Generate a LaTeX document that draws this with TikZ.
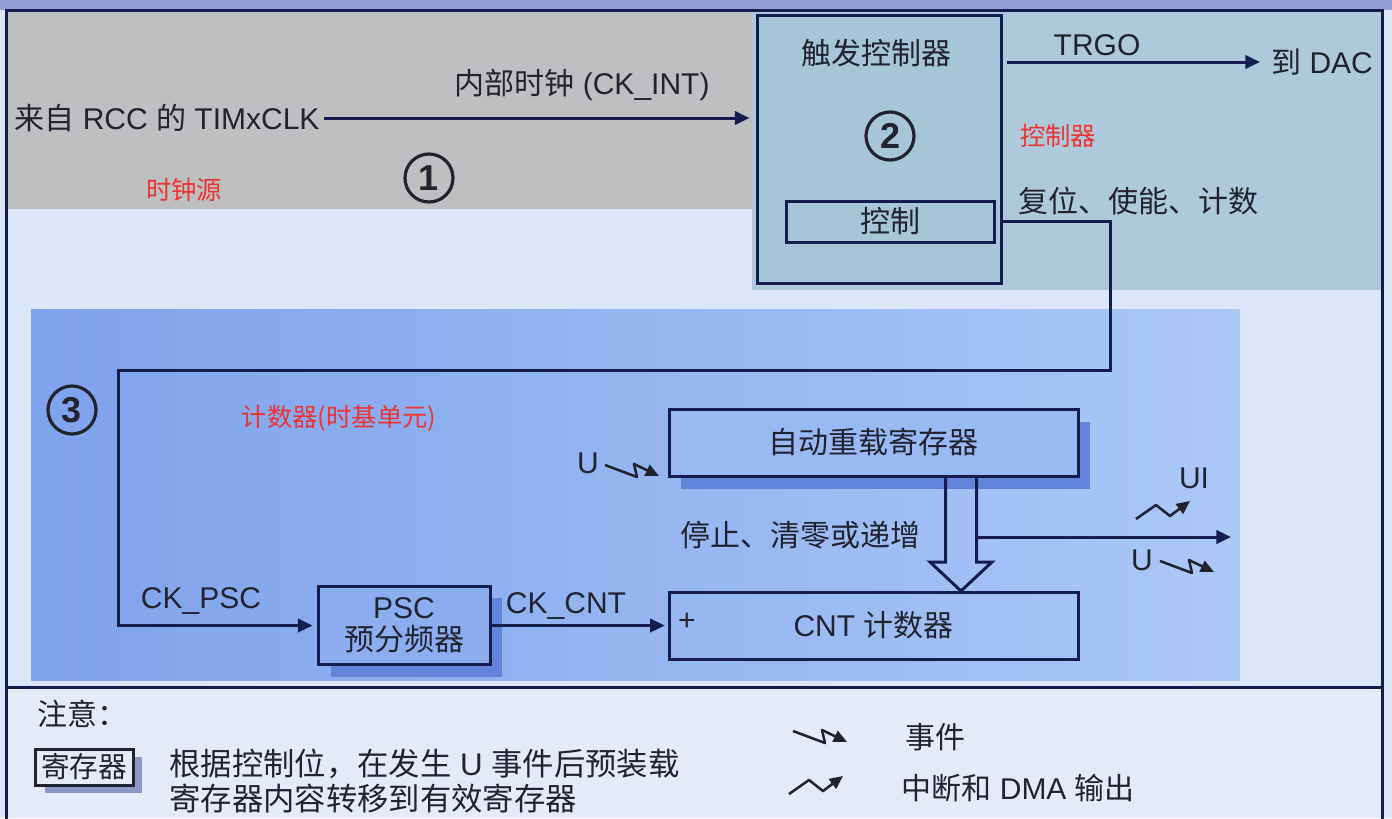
\documentclass[tikz,border=0pt]{standalone}
\usepackage{fontspec}
\setmainfont{Liberation Sans}
\newfontfamily\zh{Noto Sans CJK SC}
\usetikzlibrary{arrows.meta,calc}

\definecolor{navy}{RGB}{22,28,78}
\definecolor{ink}{RGB}{35,35,48}
\definecolor{srcgray}{RGB}{189,191,193}
\definecolor{ctlblue}{RGB}{174,201,217}
\definecolor{trigblue}{RGB}{166,197,214}
\definecolor{paleblue}{RGB}{220,230,248}
\definecolor{cntleft}{RGB}{126,162,236}
\definecolor{cntright}{RGB}{172,200,248}
\definecolor{pscfill}{RGB}{140,174,240}
\definecolor{arrfill}{RGB}{152,185,244}
\definecolor{shadeblue}{RGB}{98,132,218}
\definecolor{notebg}{RGB}{228,234,247}
\definecolor{noteshade}{RGB}{140,152,200}
\definecolor{redlbl}{RGB}{236,52,52}
\definecolor{titleband}{RGB}{150,158,214}

\tikzset{every picture/.style={line width=0.75pt}}
\tikzset{
  txt/.style={inner sep=0pt, text=ink, font=\fontsize{22.5}{27}\selectfont},
  hint/.style={inner sep=0pt, text=redlbl, font=\zh\fontsize{19}{22}\selectfont},
  box/.style={draw=navy, line width=2.25pt, inner sep=0pt, align=center, text=ink, font=\fontsize{22.5}{27}\selectfont},
  wire/.style={draw=navy, line width=2.25pt},
  flow/.style={wire, -{Triangle[length=11pt,width=10pt]}},
  num/.style={circle, draw=ink, line width=2.4pt, minimum size=36pt, inner sep=0pt, text=ink, font=\bfseries\fontsize{27}{30}\selectfont},
  zz/.style={draw=ink, line width=1.9pt, line join=round, -{Triangle[length=10pt,width=9pt]}},
  evt/.pic={\draw[zz] (0,0) -- (32,-12) -- (29,1) -- (54,-11);},
  irq/.pic={\draw[zz] (0,0) -- (20,14) -- (34,3) -- (54,18);}
}

\begin{document}
\begin{tikzpicture}[x=0.75pt,y=0.75pt,yscale=-1,xscale=1]
  \useasboundingbox (0,0) rectangle (1392,818);

  % backgrounds
  \fill[paleblue] (0,0) rectangle (1392,818);
  \fill[titleband] (0,0) rectangle (1392,10);
  \fill[notebg] (6,687) rectangle (1382,818);
  \fill[srcgray] (8,12) rectangle (752,209);
  \fill[ctlblue] (752,12) rectangle (1381,290);
  \shade[left color=cntleft, right color=cntright] (31,309) rectangle (1240,680);
  \draw[navy, line width=2.25pt] (6,830) -- (6,10) -- (1382,10) -- (1382,830);
  \draw[navy, line width=2.25pt] (6,687) -- (1382,687);

  % clock source
  \node[txt] (src) at (167,118) {{\zh 来自} RCC {\zh 的} TIMxCLK};
  \node[txt] (ckint) at (582,85) {{\zh 内部时钟} (CK\_INT)};
  \node[num] (n1) at (429,178) {1};
  \node[hint] (lsrc) at (184,190) {时钟源};

  % trigger controller
  \node[box, fill=trigblue, minimum width=183pt, minimum height=201pt] (trig) at (879,149) {};
  \node[txt, font=\zh\fontsize{22.5}{27}\selectfont] (trigt) at (876,53) {触发控制器};
  \node[num] (n2) at (890,136) {2};
  \node[box, minimum width=156pt, minimum height=30.75pt, font=\zh\fontsize{22.5}{27}\selectfont] (ctl) at (890,221.5) {控制};
  \node[txt] (trgo) at (1097,45) {TRGO};
  \node[txt] (dac) at (1322,62) {{\zh 到} DAC};
  \node[hint] (lctl) at (1058,136) {控制器};
  \node[txt, font=\zh\fontsize{22.5}{27}\selectfont] (rst) at (1138,201) {复位、使能、计数};

  % time base unit
  \node[num] (n3) at (72,410) {3};
  \node[hint] (lcnt) at (339,418) {计数器(时基单元)};
  \fill[shadeblue] (331,598) rectangle (502,677);
  \node[box, fill=pscfill, minimum width=129pt, minimum height=58.5pt, font=\fontsize{22.5}{25}\selectfont] (psc) at (404,625.5) {PSC\\[-1pt]{\zh 预分频器}};
  \fill[shadeblue] (681,422) rectangle (1090,489);
  \node[box, fill=arrfill, minimum width=306.75pt, minimum height=50.25pt, font=\zh\fontsize{22.5}{27}\selectfont] (arr) at (873.5,442.5) {自动重载寄存器};
  \node[box, minimum width=306.75pt, minimum height=50.25pt] (cnt) at (873.5,625.5) {CNT {\zh 计数器}};
  \node[txt] (plus) at (687,622) {+};
  \node[txt] (ckpsc) at (201,601) {CK\_PSC};
  \node[txt] (ckcnt) at (566,606) {CK\_CNT};
  \node[txt] (uin) at (588,463) {U};
  \node[txt, font=\zh\fontsize{22.5}{27}\selectfont] (stop) at (800,535) {停止、清零或递增};
  \node[txt] (ui) at (1194,478) {UI};
  \node[txt] (uout) at (1142,560) {U};

  % connectors
  \coordinate (turnA) at (1110,370);
  \coordinate (turnB) at (118,370);
  \coordinate (tap) at (976.5,537);
  \coordinate (outR) at (1231,537);
  \draw[flow, shorten <=3pt, shorten >=4.5pt] (src.east) -- (src.east -| trig.west);
  \draw[flow, shorten <=3pt, shorten >=8pt] (trig.east |- dac) -- (dac.west);
  \draw[flow, shorten >=3pt] (ctl.east -| trig.east) -| (turnA) -- (turnB) |- (psc.west);
  \draw[flow, shorten >=2pt] (psc.east) -- (cnt.west);
  \draw[wire, line join=miter] (945.5,476) -- (945.5,562) -- (930,562) -- (961,591) -- (992,562) -- (976.5,562) -- (976.5,476);
  \draw[flow] (tap) -- (outR);
  \pic at (605,465) {evt};
  \pic at (1136,519) {irq};
  \pic at (1160,561) {evt};

  % notes
  \node[txt, font=\zh\fontsize{22.5}{27}\selectfont, anchor=west] (note) at (37,714) {注意：};
  \fill[noteshade] (45,757) rectangle (142,793);
  \node[box, draw=ink, fill=notebg, minimum width=73.5pt, minimum height=27pt, font=\zh\fontsize{21.5}{25}\selectfont] (reg) at (84,767) {寄存器};
  \node[txt, anchor=west, align=left, font=\fontsize{23.5}{26.5}\selectfont] (regtxt) at (169,781) {{\zh 根据控制位，在发生} U {\zh 事件后预装载}\\{\zh 寄存器内容转移到有效寄存器}};
  \pic at (793,731) {evt};
  \node[txt, font=\zh\fontsize{22.5}{27}\selectfont] (evtxt) at (935,737) {事件};
  \pic at (789,794) {irq};
  \node[txt, anchor=west] (irqtxt) at (901,788) {{\zh 中断和} DMA {\zh 输出}};
\end{tikzpicture}
\end{document}
